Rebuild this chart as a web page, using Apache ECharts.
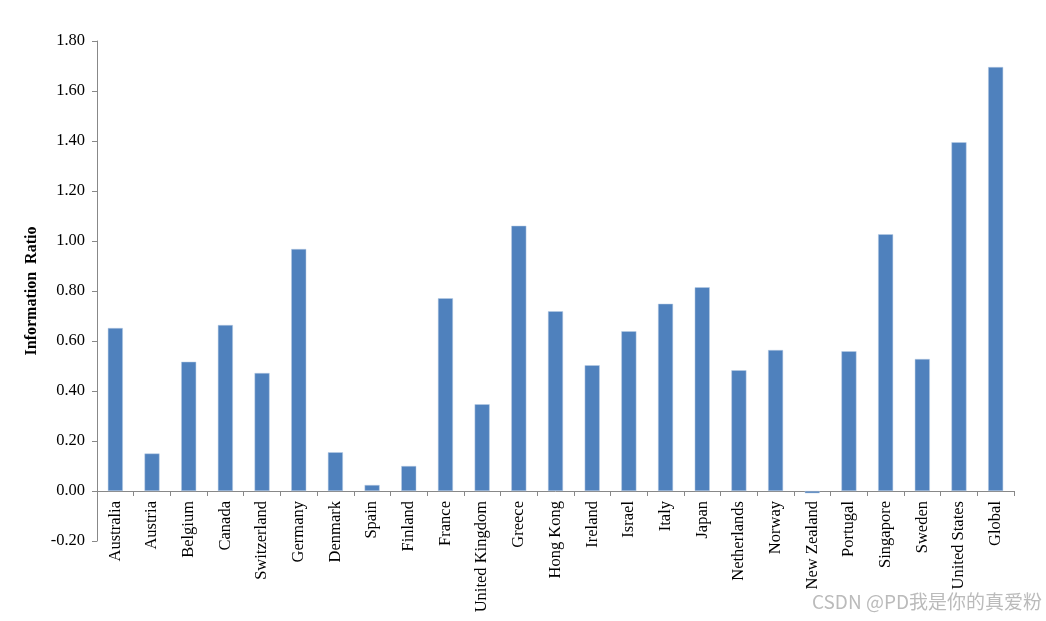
<!DOCTYPE html>
<html><head><meta charset="utf-8">
<script src="https://cdn.jsdelivr.net/npm/echarts@6/dist/echarts.min.js"></script>
<style>html,body{margin:0;padding:0;background:#fff}#c{width:1046px;height:621px}</style>
</head><body><div id="c"></div>
<script>
const categories = ["Australia","Austria","Belgium","Canada","Switzerland","Germany","Denmark","Spain","Finland","France","United Kingdom","Greece","Hong Kong","Ireland","Israel","Italy","Japan","Netherlands","Norway","New Zealand","Portugal","Singapore","Sweden","United States","Global"];
const infoRatio = [0.652,0.150,0.517,0.664,0.472,0.968,0.155,0.024,0.100,0.771,0.347,1.061,0.719,0.503,0.639,0.749,0.815,0.483,0.564,-0.009,0.559,1.027,0.528,1.395,1.696];
const yMin = -0.2, yMax = 1.8, yStep = 0.2;
const chart = echarts.init(document.getElementById('c'));
chart.setOption({
  animation:false,
  grid:{left:97,right:32,top:41,bottom:80,containLabel:false,outerBoundsMode:'none'},
  xAxis:{type:'category',data:categories,
    axisLine:{onZero:true,lineStyle:{color:'#888',width:1}},
    axisTick:{show:true,alignWithLabel:false,length:5,lineStyle:{color:'#888'}},
    axisLabel:{rotate:90,interval:0,margin:-40,color:'#000',fontFamily:'Liberation Serif',fontSize:16.5}},
  yAxis:{type:'value',min:yMin,max:yMax,interval:yStep,
    name:'Information  Ratio',nameLocation:'middle',nameGap:55,nameRotate:90,
    nameTextStyle:{fontFamily:'Liberation Serif',fontSize:16,fontWeight:'bold',color:'#000'},
    splitLine:{show:false},
    axisLine:{show:true,lineStyle:{color:'#888'}},
    axisTick:{show:true,length:5,lineStyle:{color:'#888'}},
    axisLabel:{margin:12,color:'#000',fontFamily:'Liberation Serif',fontSize:16.5,formatter:v=>v.toFixed(2)}},
  series:[{type:'bar',data:infoRatio,barWidth:15,itemStyle:{color:'#4F81BD',borderColor:'#B9CDE5',borderWidth:0.5}}],
  graphic:[{type:'text',right:4,top:592,style:{text:'CSDN @PD我是你的真爱粉',fill:'#bbb',font:'19px "Noto Sans CJK SC", sans-serif'}}]
});
</script></body></html>
